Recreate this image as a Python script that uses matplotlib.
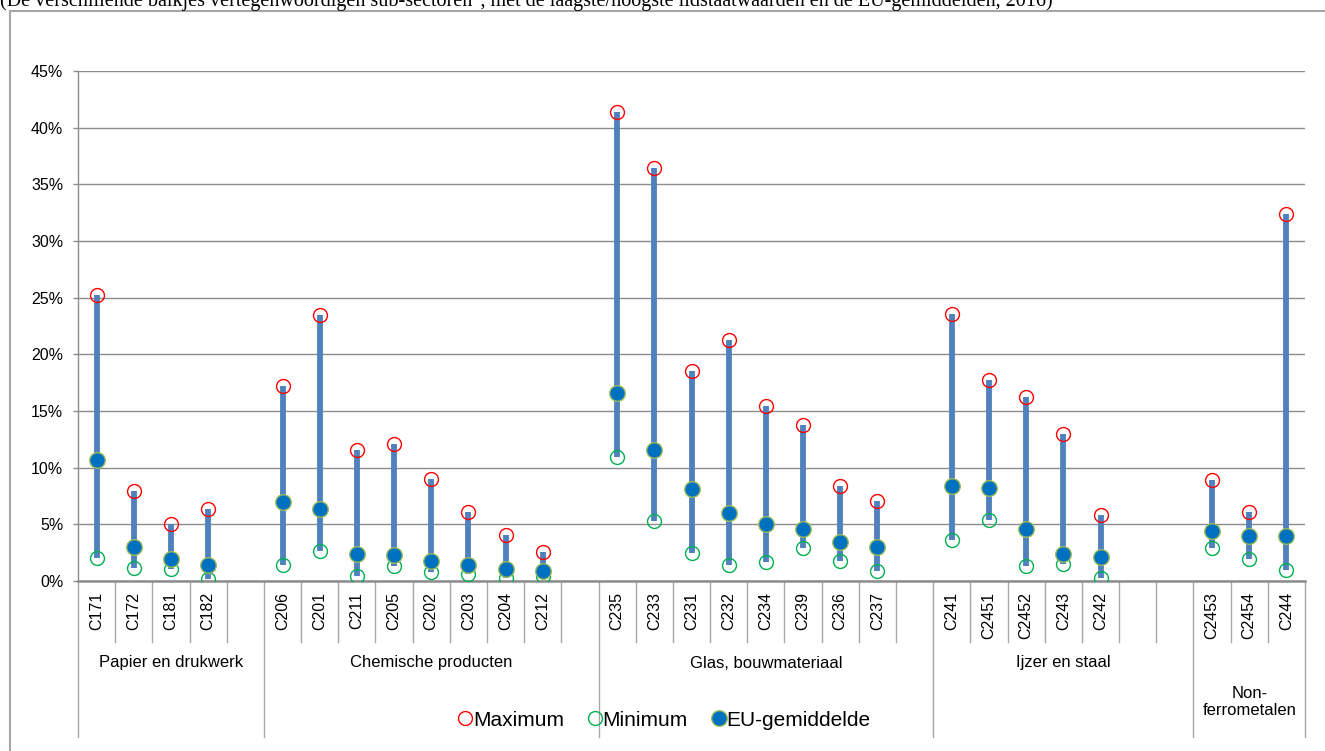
import matplotlib
matplotlib.use("Agg")
import matplotlib.pyplot as plt
from matplotlib.lines import Line2D
from matplotlib.patches import Rectangle

W, H = 1325, 751

categories = ["C171", "C172", "C181", "C182",
              "C206", "C201", "C211", "C205", "C202", "C203", "C204", "C212",
              "C235", "C233", "C231", "C232", "C234", "C239", "C236", "C237",
              "C241", "C2451", "C2452", "C243", "C242",
              "C2453", "C2454", "C244"]
groups = ["Papier en drukwerk", "Chemische producten", "Glas, bouwmateriaal",
          "Ijzer en staal", "Non-\nferrometalen"]
group_sizes = [4, 8, 8, 5, 3]
group_gaps = [1, 1, 1, 2, 0]

maximum = [25.2, 7.9, 5.0, 6.35,
           17.2, 23.5, 11.55, 12.05, 9.0, 6.1, 4.05, 2.6,
           41.35, 36.4, 18.5, 21.3, 15.45, 13.75, 8.4, 7.1,
           23.6, 17.7, 16.2, 12.95, 5.85,
           8.95, 6.05, 32.35]
minimum = [2.0, 1.15, 1.05, 0.2,
           1.4, 2.65, 0.45, 1.3, 0.8, 0.65, 0.25, 0.4,
           10.9, 5.3, 2.5, 1.4, 1.7, 2.9, 1.8, 0.85,
           3.65, 5.35, 1.35, 1.5, 0.3,
           2.95, 1.9, 0.95]
eu_avg = [10.7, 3.0, 1.9, 1.4,
          7.0, 6.35, 2.35, 2.3, 1.75, 1.45, 1.05, 0.9,
          16.55, 11.55, 8.15, 6.0, 5.05, 4.6, 3.4, 3.0,
          8.4, 8.25, 4.55, 2.35, 2.15,
          4.45, 3.95, 4.0]
yticks = [0, 5, 10, 15, 20, 25, 30, 35, 40, 45]
ytick_labels = [f"{v}%" for v in yticks]
legend_labels = ["Maximum", "Minimum", "EU-gemiddelde"]
title = ('(De verschillende balkjes vertegenwoordigen sub-sectoren", met de laagste/hoogste '
         'lidstaatwaarden en de EU-gemiddelden, 2016)')

SANS = ["Liberation Sans", "DejaVu Sans"]
plt.rcParams["font.family"] = SANS

# slot positions
positions = []
spans = []
pos = 0
for size, gap in zip(group_sizes, group_gaps):
    start = pos
    positions += list(range(pos, pos + size))
    pos += size + gap
    spans.append((start - 0.5, pos - 0.5))
n_slots = pos

fig = plt.figure(figsize=(W / 100, H / 100), dpi=100)
ax = fig.add_axes([78 / W, (H - 581) / H, 1227 / W, 510 / H])

GRID = "#8c8c8c"
ax.set_xlim(-0.5, n_slots - 0.5)
ax.set_ylim(0, 45)
ax.set_yticks(yticks)
ax.set_yticklabels(ytick_labels, fontsize=11.5)
ax.tick_params(axis="y", length=3.6, width=1, color=GRID, pad=7)
ax.set_xticks([])
ax.yaxis.grid(True, color=GRID, lw=1.0)
ax.set_axisbelow(True)
for s in ["top", "right"]:
    ax.spines[s].set_visible(False)
ax.spines["left"].set_color(GRID)
ax.spines["left"].set_linewidth(1.0)
ax.spines["bottom"].set_color(GRID)
ax.spines["bottom"].set_linewidth(1.8)

BAR = "#4F81BD"
MS_OPEN = 10.0
MS_AVG = 11.2
ax.vlines(positions, minimum, maximum, color=BAR, lw=4.2, zorder=3)
ax.plot(positions, maximum, "o", ls="none", ms=MS_OPEN, mfc="none", mec="#FF0000", mew=1.0, zorder=4)
ax.plot(positions, minimum, "o", ls="none", ms=MS_OPEN, mfc="none", mec="#00B050", mew=1.0, zorder=4)
ax.plot(positions, eu_avg, "o", ls="none", ms=MS_AVG, mfc="#0070C0", mec="#9BBB59", mew=1.0, zorder=5)

# category labels
xt = ax.get_xaxis_transform()
def ay(p):
    return (581 - p) / 510.0

for x, lab in zip(positions, categories):
    ax.text(x, ay(592), lab, rotation=90, ha="center", va="top", fontsize=11.5,
            transform=xt, clip_on=False)

# dividers
group_bounds = set()
for a, b in spans:
    group_bounds.add(a)
    group_bounds.add(b)
for k in range(n_slots + 1):
    xb = k - 0.5
    bottom = ay(737) if xb in group_bounds else ay(642)
    ax.plot([xb, xb], [0, bottom], color="#a6a6a6", lw=1.0, transform=xt, clip_on=False)

for (a, b), g in zip(spans, groups):
    if "\n" in g:
        ax.text((a + b) / 2, ay(702), g, ha="center", va="center", fontsize=12,
                transform=xt, clip_on=False, linespacing=1.15)
    else:
        ax.text((a + b) / 2, ay(663), g, ha="center", va="center", fontsize=12,
                transform=xt, clip_on=False)

# legend
handles = [
    Line2D([], [], marker="o", ls="none", ms=MS_OPEN, mfc="none", mec="#FF0000", mew=1.0),
    Line2D([], [], marker="o", ls="none", ms=MS_OPEN, mfc="none", mec="#00B050", mew=1.0),
    Line2D([], [], marker="o", ls="none", ms=MS_AVG, mfc="#0070C0", mec="#9BBB59", mew=1.0),
]
fig.legend(handles, legend_labels, loc="center", bbox_to_anchor=(665 / W, 1 - 720 / H),
           ncol=3, frameon=False, fontsize=15, handlelength=0.55, handletextpad=0.1,
           columnspacing=1.2)

# outer frame
fig.patches.append(Rectangle((10 / W, -0.1), 1.2, 1.1 - 11 / H, transform=fig.transFigure,
                             fill=False, ec="#a6a6a6", lw=1.5))

fig.text(0.0, 1 - 6 / H, title, ha="left", va="baseline", fontsize=14.5,
         family=["Liberation Serif", "DejaVu Serif"])

fig.savefig("out.png", dpi=100)
